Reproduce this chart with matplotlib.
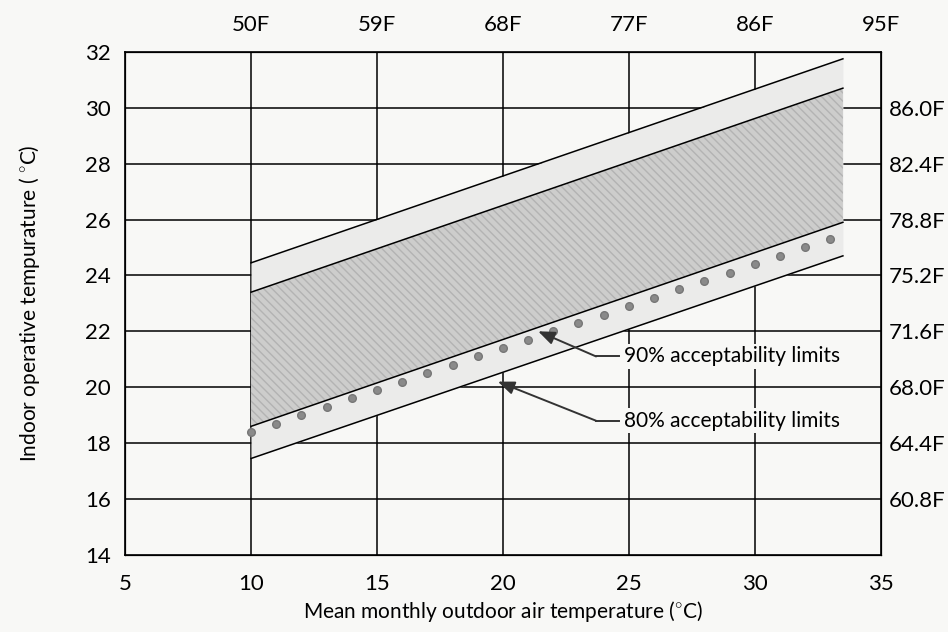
import matplotlib.pyplot as plt
import numpy as np

# Диапазон наружных температур, для которого заданы границы (°C)
x_ends = [10, 33.5]
# Границы зон комфорта (значения в начале и в конце, °C)
upper80 = [24.45, 31.75]
upper90 = [23.4, 30.7]
lower90 = [18.6, 25.9]
lower80 = [17.45, 24.7]

# Точки вдоль нижней границы 90%
dot_x = [10, 11, 12, 13, 14, 15, 16, 17, 18, 19, 20, 21, 22, 23, 24, 25,
         26, 27, 28, 29, 30, 31, 32, 33]
dot_y = [18.4, 18.7, 19.0, 19.3, 19.6, 19.9, 20.2, 20.5, 20.8, 21.1, 21.4,
         21.7, 22.0, 22.3, 22.6, 22.9, 23.2, 23.5, 23.8, 24.1, 24.4, 24.7,
         25.0, 25.3]

x_ticks = [5, 10, 15, 20, 25, 30, 35]
y_ticks = [14, 16, 18, 20, 22, 24, 26, 28, 30, 32]
top_ticks = [10, 15, 20, 25, 30, 35]
top_labels = ["50F", "59F", "68F", "77F", "86F", "95F"]
right_ticks = [16, 18, 20, 22, 24, 26, 28, 30]
right_labels = ["60.8F", "64.4F", "68.0F", "71.6F", "75.2F", "78.8F",
                "82.4F", "86.0F"]

bg = "#f8f8f6"
plt.rcParams['font.family'] = ['Lato', 'DejaVu Sans']
plt.rcParams['mathtext.fontset'] = 'custom'
plt.rcParams['mathtext.rm'] = 'Lato'

fig = plt.figure(figsize=(9.48, 6.32), dpi=100, facecolor=bg)
ax = fig.add_axes([0.132, 0.122, 0.797, 0.796])
ax.set_facecolor(bg)
ax.set_xlim(5, 35)
ax.set_ylim(14, 32)

# сетка
for xv in x_ticks[1:-1]:
    ax.axvline(xv, color="black", lw=1.1, zorder=1)
for yv in y_ticks[1:-1]:
    ax.axhline(yv, color="black", lw=1.1, zorder=1)

# зоны
ax.fill_between(x_ends, lower80, upper80, color="#ebebea", lw=0, zorder=2)
ax.fill_between(x_ends, lower90, upper90, facecolor="#cdcdcc",
                edgecolor="#b3b3b3", hatch="\\\\\\\\", lw=0, zorder=3)
for ys in (upper80, upper90, lower90, lower80):
    ax.plot(x_ends, ys, color="black", lw=1.1, zorder=4)
ax.plot(dot_x, dot_y, "o", color="#8a8a8a", ms=5.5, mec="#777777", zorder=5)

# подписи со стрелками
box = dict(facecolor=bg, edgecolor="none", pad=2)
ax.plot([23.7, 24.6], [21.1, 21.1], color="#333333", lw=1.4, zorder=6)
ax.annotate("", xy=(21.4, 22.0), xytext=(23.7, 21.1), zorder=6,
            arrowprops=dict(arrowstyle="-|>,head_length=1.0,head_width=0.4",
                            color="#333333", lw=1.4, shrinkA=0, shrinkB=0))
ax.text(24.8, 21.1, "90% acceptability limits", fontsize=15, va="center",
        zorder=7, bbox=box)
ax.plot([23.7, 24.6], [18.8, 18.8], color="#333333", lw=1.4, zorder=6)
ax.annotate("", xy=(19.8, 20.2), xytext=(23.7, 18.8), zorder=6,
            arrowprops=dict(arrowstyle="-|>,head_length=1.0,head_width=0.4",
                            color="#333333", lw=1.4, shrinkA=0, shrinkB=0))
ax.text(24.8, 18.8, "80% acceptability limits", fontsize=15, va="center",
        zorder=7, bbox=box)

ax.set_xticks(x_ticks)
ax.set_yticks(y_ticks)
ax.tick_params(axis="x", length=0, labelsize=16, pad=14)
ax.tick_params(axis="y", length=0, labelsize=16, pad=10)
for s in ax.spines.values():
    s.set_linewidth(1.2)
ax.set_xlabel("Mean monthly outdoor air temperature ($^{\\circ}$C)",
              fontsize=15, labelpad=3)
ax.set_ylabel("Indoor operative tempurature ( $^{\\circ}$C)", fontsize=15,
              labelpad=31)

axt = ax.twiny()
axt.set_xlim(ax.get_xlim())
axt.set_xticks(top_ticks)
axt.set_xticklabels(top_labels)
axt.tick_params(length=0, labelsize=16, pad=12)

axr = ax.twinx()
axr.set_ylim(ax.get_ylim())
axr.set_yticks(right_ticks)
axr.set_yticklabels(right_labels)
axr.tick_params(length=0, labelsize=16, pad=6)

fig.savefig("out.png", dpi=100, facecolor=bg)
